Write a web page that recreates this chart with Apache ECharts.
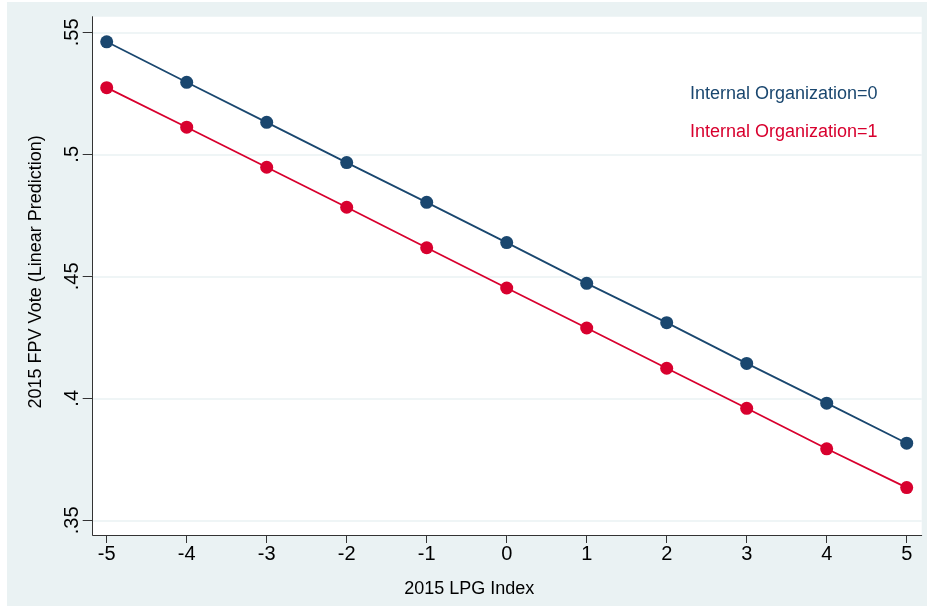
<!DOCTYPE html>
<html>
<head>
<meta charset="utf-8">
<script src="https://cdn.jsdelivr.net/npm/echarts@6/dist/echarts.min.js"></script>
<style>
html,body{margin:0;padding:0;background:#ffffff;width:927px;height:606px;overflow:hidden;}
#c{position:absolute;left:7px;top:2px;width:920px;height:604px;}
</style>
</head>
<body>
<div id="c"></div>
<script>
// ---- data ----
const lpgIndex = [-5, -4, -3, -2, -1, 0, 1, 2, 3, 4, 5];
const org0 = [0.5461, 0.5295, 0.5131, 0.4966, 0.4803, 0.4638, 0.4471, 0.4310, 0.4143, 0.3980, 0.3816];
const org1 = [0.5273, 0.5111, 0.4947, 0.4783, 0.4617, 0.4452, 0.4288, 0.4123, 0.3959, 0.3793, 0.3634];
const yTickValues = [0.35, 0.40, 0.45, 0.50, 0.55];
const yTickLabels = ['.35', '.4', '.45', '.5', '.55'];
const xTickValues = [-5, -4, -3, -2, -1, 0, 1, 2, 3, 4, 5];
const seriesNames = ['Internal Organization=0', 'Internal Organization=1'];
const xTitle = '2015 LPG Index';
const yTitle = '2015 FPV Vote (Linear Prediction)';

const BLUE = '#1a476f';
const RED = '#d8002e';
const FONT = 'Liberation Sans, Arial, Helvetica, sans-serif';

function pairs(xs, ys) { return xs.map((x, i) => [x, ys[i]]); }

const chart = echarts.init(document.getElementById('c'));
chart.setOption({
  backgroundColor: '#eaf2f3',
  animation: false,
  textStyle: { fontFamily: FONT },
  grid: {
    left: 85.7, top: 14.7, right: 5.3, bottom: 71,
    show: true, backgroundColor: '#ffffff', borderWidth: 0,
    containLabel: false
  },
  legend: {
    orient: 'vertical',
    left: 673, top: 77,
    itemWidth: 0, itemHeight: 0,
    itemGap: 18,
    selectedMode: false,
    data: [
      { name: seriesNames[0], icon: 'none', textStyle: { color: BLUE } },
      { name: seriesNames[1], icon: 'none', textStyle: { color: RED } }
    ],
    textStyle: { fontSize: 18, fontFamily: FONT, lineHeight: 20 }
  },
  xAxis: {
    type: 'value',
    min: -5.175, max: 5.1875,
    name: xTitle,
    nameLocation: 'middle',
    nameGap: 45,
    nameTextStyle: { fontSize: 18, color: '#000', fontFamily: FONT, padding: [0, 76, 0, 0] },
    axisLine: { show: true, onZero: false, lineStyle: { color: '#333', width: 1 } },
    axisTick: { show: true, length: 8, lineStyle: { color: '#333' }, customValues: xTickValues },
    axisLabel: {
      customValues: xTickValues,
      fontSize: 20, color: '#000', margin: 9,
      formatter: v => String(v)
    },
    splitLine: { show: false }
  },
  yAxis: {
    type: 'value',
    min: 0.34397, max: 0.55639,
    name: yTitle,
    nameLocation: 'middle',
    nameGap: 48,
    nameTextStyle: { fontSize: 18, color: '#000', fontFamily: FONT, padding: [0, 0, 0, 8] },
    axisLine: { show: true, onZero: false, lineStyle: { color: '#333', width: 1 } },
    axisTick: { show: true, length: 10, lineStyle: { color: '#333' }, customValues: yTickValues },
    axisLabel: {
      customValues: yTickValues,
      rotate: 90,
      fontSize: 20, color: '#000', margin: 10,
      formatter: v => {
        const i = yTickValues.findIndex(t => Math.abs(t - v) < 1e-9);
        return i >= 0 ? yTickLabels[i] : '';
      }
    },
    splitLine: { show: true, lineStyle: { color: '#eaf2f3', width: 1.5 } }
  },
  series: [
    {
      name: seriesNames[0], type: 'line', data: pairs(lpgIndex, org0),
      symbol: 'circle', symbolSize: 13,
      lineStyle: { color: BLUE, width: 1.8 },
      itemStyle: { color: BLUE }
    },
    {
      name: seriesNames[1], type: 'line', data: pairs(lpgIndex, org1),
      symbol: 'circle', symbolSize: 13,
      lineStyle: { color: RED, width: 1.8 },
      itemStyle: { color: RED }
    }
  ]
});
</script>
</body>
</html>
